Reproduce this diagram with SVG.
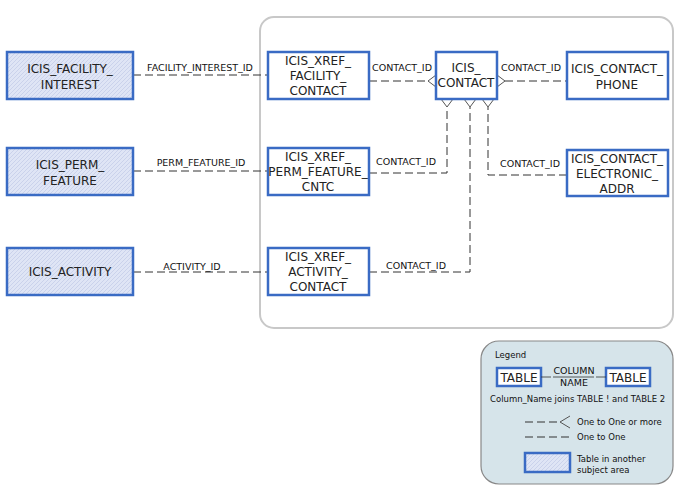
<svg xmlns="http://www.w3.org/2000/svg" width="686" height="497" viewBox="0 0 686 497">
<defs>
<pattern id="h" width="4" height="4" patternUnits="userSpaceOnUse"><rect width="4" height="4" fill="#dfe5f5"/><path d="M0 4L4 0" stroke="#c5cde8" stroke-width="0.8"/></pattern>
</defs>
<style>
.t{fill:#fff;stroke:#3a6bc4;stroke-width:2.5}
.e{fill:url(#h);stroke:#3a6bc4;stroke-width:2.5}
.n{font-family:"DejaVu Sans",sans-serif;font-size:12px;fill:#222;text-anchor:middle}
.l{font-family:"DejaVu Sans",sans-serif;font-size:9.5px;fill:#111;text-anchor:middle}
.s{font-family:"DejaVu Sans",sans-serif;font-size:8.5px;fill:#111}
.c{fill:none;stroke:#333;stroke-width:1;stroke-dasharray:8,4}
.f{fill:none;stroke:#555;stroke-width:1}
</style>
<rect x="260" y="17" width="413" height="311" rx="14" fill="#fff" stroke="#c8c8c8" stroke-width="2"/>
<g id="connectors">
<path class="c" d="M133 75H268"/><text class="l" x="200" y="71">FACILITY_INTEREST_ID</text>
<path class="c" d="M133 171H268"/><text class="l" x="201" y="166">PERM_FEATURE_ID</text>
<path class="c" d="M133 272H268"/><text class="l" x="192" y="270">ACTIVITY_ID</text>
<path class="c" d="M369 81H428"/><text class="l" x="402" y="71">CONTACT_ID</text>
<path class="f" d="M436 75L428 81L436 87"/>
<path class="c" d="M505 81H567"/><text class="l" x="531" y="71">CONTACT_ID</text>
<path class="f" d="M497 75L505 81L497 87"/>
<path class="c" d="M369 173H447V107"/><text class="l" x="406" y="165">CONTACT_ID</text>
<path class="f" d="M441 99L447 107L453 99"/>
<path class="c" d="M369 272H470V107"/><text class="l" x="416" y="269">CONTACT_ID</text>
<path class="f" d="M464 99L470 107L476 99"/>
<path class="c" d="M567 175H488V107"/><text class="l" x="530" y="167">CONTACT_ID</text>
<path class="f" d="M482 99L488 107L494 99"/>
</g>
<g id="n1"><rect class="e" x="7" y="52" width="126" height="47"/><text class="n" x="70" y="73">ICIS_FACILITY_</text><text class="n" x="70" y="89">INTEREST</text></g>
<g id="n2"><rect class="e" x="7" y="148" width="126" height="47"/><text class="n" x="70" y="169">ICIS_PERM_</text><text class="n" x="70" y="185">FEATURE</text></g>
<g id="n3"><rect class="e" x="7" y="248" width="126" height="47"/><text class="n" x="70" y="276">ICIS_ACTIVITY</text></g>
<g id="n4"><rect class="t" x="268" y="52" width="101" height="47"/><text class="n" x="318" y="65">ICIS_XREF_</text><text class="n" x="318" y="80">FACILITY_</text><text class="n" x="318" y="95">CONTACT</text></g>
<g id="n5"><rect class="t" x="268" y="148" width="101" height="47"/><text class="n" x="318" y="161">ICIS_XREF_</text><text class="n" x="318" y="176">PERM_FEATURE_</text><text class="n" x="318" y="191">CNTC</text></g>
<g id="n6"><rect class="t" x="268" y="248" width="101" height="47"/><text class="n" x="318" y="261">ICIS_XREF_</text><text class="n" x="318" y="276">ACTIVITY_</text><text class="n" x="318" y="291">CONTACT</text></g>
<g id="n7"><rect class="t" x="436" y="52" width="61" height="47"/><text class="n" x="466" y="72">ICIS_</text><text class="n" x="466" y="87">CONTACT</text></g>
<g id="n8"><rect class="t" x="567" y="52" width="101" height="47"/><text class="n" x="617" y="73">ICIS_CONTACT_</text><text class="n" x="617" y="89">PHONE</text></g>
<g id="n9"><rect class="t" x="567" y="150" width="101" height="46"/><text class="n" x="617" y="163">ICIS_CONTACT_</text><text class="n" x="617" y="178">ELECTRONIC_</text><text class="n" x="617" y="193">ADDR</text></g>
<g id="legend">
<rect x="481" y="341" width="192" height="143" rx="18" fill="#d6e4ea" stroke="#888" stroke-width="1.2"/>
<text class="s" x="495" y="358">Legend</text>
<rect class="t" x="497" y="368" width="44" height="18"/><text class="n" x="519" y="382">TABLE</text>
<rect class="t" x="606" y="368" width="44" height="18"/><text class="n" x="628" y="382">TABLE</text>
<path d="M541 377H551M596 377H606M553 377H594" stroke="#333" stroke-width="0.8"/>
<text class="l" x="574" y="374" font-size="8.5">COLUMN</text><text class="l" x="574" y="386" font-size="8.5">NAME</text>
<text class="s" x="490" y="402">Column_Name joins TABLE ! and TABLE 2</text>
<path class="c" d="M525 422H560" stroke-dasharray="6,4"/><path class="f" d="M570 416L560 422L570 428"/>
<text class="s" x="577" y="425">One to One or more</text>
<path class="c" d="M525 437H570" stroke-dasharray="6,4"/>
<text class="s" x="577" y="440">One to One</text>
<rect class="e" x="525" y="453" width="45" height="19" stroke-width="2"/>
<text class="s" x="577" y="462">Table in another</text><text class="s" x="577" y="473">subject area</text>
</g>
</svg>
